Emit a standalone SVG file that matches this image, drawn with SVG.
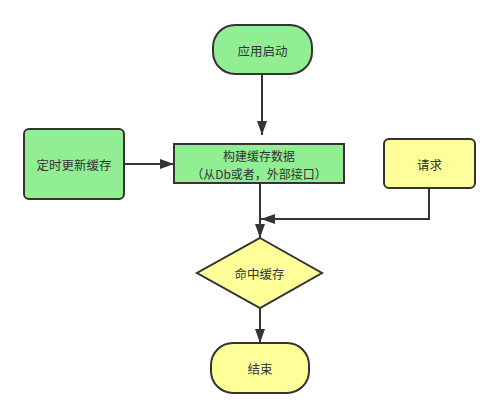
<svg xmlns="http://www.w3.org/2000/svg" width="499" height="418" viewBox="0 0 499 418">
<defs>
<style>
.n{stroke:#333;stroke-width:2}
.g{fill:#92EE92}
.y{fill:#FFFF99}
text{font-family:"Noto Sans CJK SC","Liberation Sans",sans-serif;font-size:12.5px;fill:#333;text-anchor:middle;dominant-baseline:central}
.s{font-size:12px}
.c{fill:none;stroke:#333;stroke-width:2}
</style>
<marker id="a" viewBox="0 0 14 10" refX="14" refY="5" markerWidth="7" markerHeight="5" orient="auto" markerUnits="strokeWidth">
<path d="M0,0 L14,5 L0,10 z" fill="#333"/>
</marker>
</defs>
<rect width="499" height="418" fill="#fff"/>
<g id="connectors">
<path class="c" d="M262,74 V135" marker-end="url(#a)"/>
<path class="c" d="M124,164 H174" marker-end="url(#a)"/>
<path class="c" d="M260,183 V238" marker-end="url(#a)"/>
<path class="c" d="M429,188 V219 H261" marker-end="url(#a)"/>
<path class="c" d="M260,308 V343" marker-end="url(#a)"/>
</g>
<g id="start">
<rect class="n g" x="213" y="25" width="99" height="49" rx="22"/>
<text x="262.5" y="50">应用启动</text>
</g>
<g id="build">
<rect class="n g" x="174" y="144" width="170" height="39"/>
<text class="s" x="259" y="155">构建缓存数据</text>
<text class="s" x="259" y="173">（从Db或者，外部接口）</text>
</g>
<g id="timer">
<rect class="n g" x="24" y="129" width="100" height="70" rx="5"/>
<text x="74" y="164">定时更新缓存</text>
</g>
<g id="request">
<rect class="n y" x="384" y="139" width="91" height="49" rx="5"/>
<text x="429.5" y="164">请求</text>
</g>
<g id="hit">
<path class="n y" d="M260,238 L322,273 L260,308 L197,273 Z"/>
<text x="259.5" y="273">命中缓存</text>
</g>
<g id="end">
<rect class="n y" x="211" y="343" width="98" height="50" rx="22"/>
<text x="260" y="368">结束</text>
</g>
</svg>
